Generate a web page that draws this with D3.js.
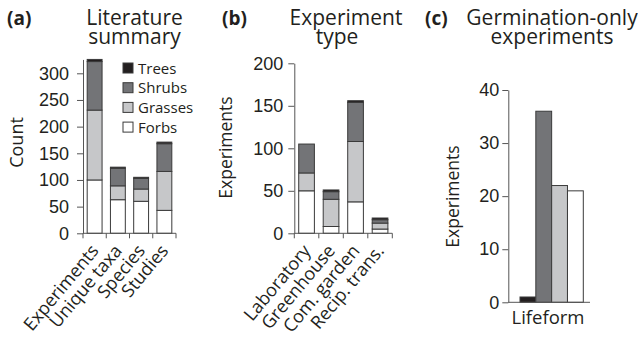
<!DOCTYPE html>
<html>
<head>
<meta charset="utf-8">
<script src="https://cdn.jsdelivr.net/npm/d3@7"></script>
<style>
  body { margin: 0; background: #fff; }
  svg { display: block; font-family: "Open Sans", sans-serif; }
  text { fill: #231f20; }
</style>
</head>
<body>
<div id="chart"></div>
<script>
// lifeform groups, stacked bottom -> top is Forbs, Grasses, Shrubs, Trees
const lifeforms = ["Trees", "Shrubs", "Grasses", "Forbs"];
const stackKeys = ["Forbs", "Grasses", "Shrubs", "Trees"];
const colors = { Trees: "#231f20", Shrubs: "#737477", Grasses: "#c6c7c9", Forbs: "#ffffff" };

// (a) literature summary
const summaryCats = ["Experiments", "Unique taxa", "Species", "Studies"];
const summaryForbs = [100, 63, 60, 43];
const summaryGrasses = [131, 26, 23, 73];
const summaryShrubs = [91, 33, 20, 52];
const summaryTrees = [4, 2, 2, 3];
const summaryTicks = [0, 50, 100, 150, 200, 250, 300];

// (b) experiment type
const typeCats = ["Laboratory", "Greenhouse", "Com. garden", "Recip. trans."];
const typeForbs = [50, 8, 37, 5];
const typeGrasses = [21, 32, 71, 7];
const typeShrubs = [34, 9, 46, 4];
const typeTrees = [0, 2, 2, 2];
const typeTicks = [0, 50, 100, 150, 200];

// (c) germination-only experiments
const germCounts = [1, 36, 22, 21];
const germTicks = [0, 10, 20, 30, 40];

const svg = d3.select("#chart").append("svg")
  .attr("width", 638)
  .attr("height", 339);

function toRows(cats, forbs, grasses, shrubs, trees) {
  return cats.map((c, i) => ({ cat: c, Forbs: forbs[i], Grasses: grasses[i], Shrubs: shrubs[i], Trees: trees[i] }));
}

function yAxis(y, ticks, xPos, pad) {
  const g = svg.append("g")
    .attr("transform", `translate(${xPos},0)`)
    .call(d3.axisLeft(y).tickValues(ticks).tickSize(6).tickSizeOuter(0).tickPadding(pad));
  g.select(".domain").attr("stroke", "#555");
  g.selectAll(".tick line").attr("stroke", "#555");
  g.selectAll(".tick text").style("font-size", "18px").attr("fill", "#231f20");
  return g;
}

function stackedPanel(rows, x, y, ticks, pad) {
  const series = d3.stack().keys(stackKeys)(rows);
  const bw = x.bandwidth() * 0.64;

  svg.append("g").selectAll("g")
    .data(series)
    .enter().append("g")
    .attr("fill", d => colors[d.key])
    .selectAll("rect")
    .data(d => d)
    .enter().append("rect")
    .attr("x", d => x(d.data.cat) + (x.bandwidth() - bw) / 2)
    .attr("y", d => y(d[1]))
    .attr("width", bw)
    .attr("height", d => y(d[0]) - y(d[1]))
    .attr("stroke", "#3a3a3a")
    .attr("stroke-width", 1);

  yAxis(y, ticks, x.range()[0], pad);

  // x axis: baseline with ticks between the categories
  const [x0, x1] = x.range();
  const y0 = y(0);
  svg.append("line")
    .attr("x1", x0).attr("x2", x1)
    .attr("y1", y0).attr("y2", y0)
    .attr("stroke", "#555");
  const edges = x.domain().map(c => x(c)).concat([x1]);
  svg.append("g").selectAll("line")
    .data(edges)
    .enter().append("line")
    .attr("x1", d => d).attr("x2", d => d)
    .attr("y1", y0).attr("y2", y0 + 5)
    .attr("stroke", "#555");

  // rotated category labels
  svg.append("g").selectAll("text")
    .data(x.domain())
    .enter().append("text")
    .attr("transform", d => `translate(${x(d) + x.bandwidth() / 2 + 5},${y0 + 18}) rotate(-50)`)
    .attr("text-anchor", "end")
    .style("font-size", "18px")
    .text(d => d);
}

// two-line centred title as one text element
function title(tag, tagX, cx, line1, line2, cx2) {
  svg.append("text").attr("x", tagX).attr("y", 25)
    .style("font-size", "19px").style("font-weight", "bold").text(tag);
  const t = svg.append("text")
    .attr("text-anchor", "middle")
    .style("font-size", "21px");
  t.append("tspan").attr("x", cx).attr("y", 25).text(line1);
  t.append("tspan").attr("x", cx2 === undefined ? cx : cx2).attr("y", 43.5).text(line2);
}

// ---------- panel (a) ----------
const xA = d3.scaleBand().domain(summaryCats).range([83, 176]);
const yA = d3.scaleLinear().domain([0, 326]).range([233.3, 233.3 - 326 * 160 / 300]);
stackedPanel(toRows(summaryCats, summaryForbs, summaryGrasses, summaryShrubs, summaryTrees), xA, yA, summaryTicks, 8);

svg.append("text")
  .attr("transform", "translate(23,142.5) rotate(-90)")
  .attr("text-anchor", "middle")
  .style("font-size", "18px")
  .text("Count");

// legend
const legend = svg.append("g")
  .attr("transform", "translate(123,63)");
lifeforms.forEach((k, i) => {
  legend.append("rect")
    .attr("x", 0).attr("y", i * 19.7)
    .attr("width", 10).attr("height", 10)
    .attr("fill", colors[k])
    .attr("stroke", "#3a3a3a");
  legend.append("text")
    .attr("x", 15).attr("y", i * 19.7 + 10.5)
    .style("font-size", "15px")
    .text(k);
});

title("(a)", 7, 134.5, "Literature", "summary");

// ---------- panel (b) ----------
const xB = d3.scaleBand().domain(typeCats).range([294.3, 392.3]);
const yB = d3.scaleLinear().domain([0, 200]).range([233.3, 63.3]);
stackedPanel(toRows(typeCats, typeForbs, typeGrasses, typeShrubs, typeTrees), xB, yB, typeTicks, 5);

svg.append("text")
  .attr("transform", "translate(232,147.5) rotate(-90)")
  .attr("text-anchor", "middle")
  .style("font-size", "17.5px")
  .text("Experiments");

title("(b)", 222, 346, "Experiment", "type", 337);

// ---------- panel (c) ----------
const xC = d3.scaleBand().domain(lifeforms).range([520, 583.3]);
const yC = d3.scaleLinear().domain([0, 40]).range([302.3, 90]);

svg.append("g").selectAll("rect")
  .data(lifeforms)
  .enter().append("rect")
  .attr("x", d => xC(d))
  .attr("y", (d, i) => yC(germCounts[i]))
  .attr("width", xC.bandwidth())
  .attr("height", (d, i) => yC(0) - yC(germCounts[i]))
  .attr("fill", d => colors[d])
  .attr("stroke", "#3a3a3a");

yAxis(yC, germTicks, 508.3, 3);
svg.append("line")
  .attr("x1", 508.3).attr("x2", 590)
  .attr("y1", yC(0)).attr("y2", yC(0))
  .attr("stroke", "#555");

svg.append("text")
  .attr("transform", "translate(459,196.5) rotate(-90)")
  .attr("text-anchor", "middle")
  .style("font-size", "17.5px")
  .text("Experiments");

svg.append("text").attr("x", 548).attr("y", 324).attr("text-anchor", "middle")
  .style("font-size", "18.5px").text("Lifeform");

title("(c)", 425, 552, "Germination-only", "experiments");
</script>
</body>
</html>
